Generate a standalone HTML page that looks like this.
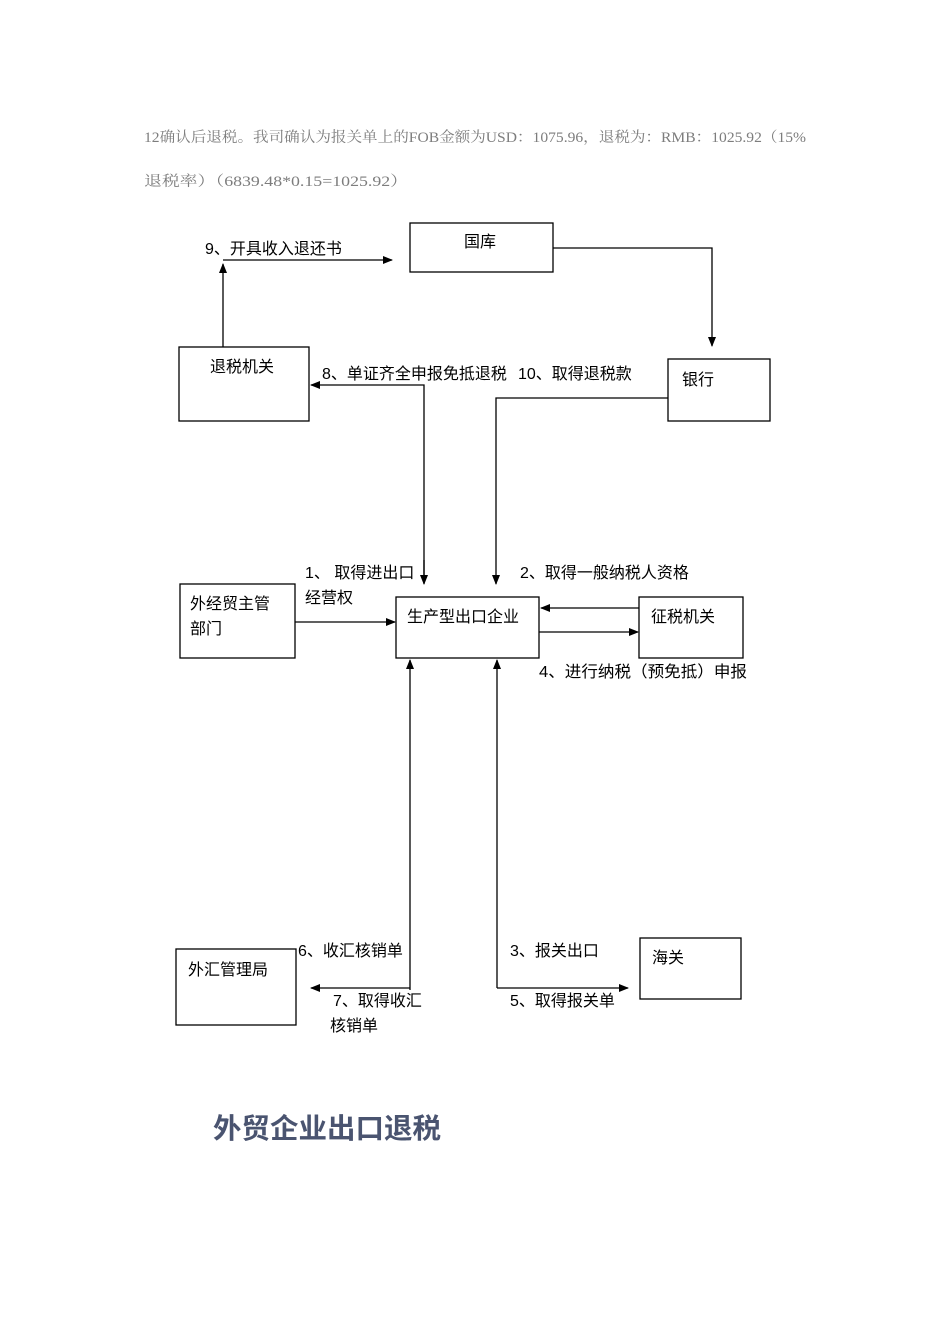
<!DOCTYPE html>
<html><head><meta charset="utf-8"><style>
body{margin:0;background:#fff;}
svg{display:block}
</style></head><body>
<svg width="950" height="1344" viewBox="0 0 950 1344" xmlns="http://www.w3.org/2000/svg">
<defs><marker id="a" markerWidth="10" markerHeight="10" refX="9" refY="5" orient="auto" markerUnits="userSpaceOnUse"><path d="M0,1 L10,5 L0,9 z" fill="#000"/></marker></defs>
<g font-family="Liberation Serif, Noto Serif CJK SC, serif" font-size="14.5" fill="#7d7d7d">
<text x="144" y="142" textLength="662" lengthAdjust="spacingAndGlyphs">12确认后退税。我司确认为报关单上的FOB金额为USD：1075.96，退税为：RMB：1025.92（15%</text>
<text x="144" y="186" textLength="264" lengthAdjust="spacingAndGlyphs">退税率）（6839.48*0.15=1025.92）</text>
</g>
<g fill="none" stroke="#000" stroke-width="1.3">
<rect x="410" y="223" width="143" height="49"/>
<rect x="179" y="347" width="130" height="74"/>
<rect x="668" y="359" width="102" height="62"/>
<rect x="180" y="584" width="115" height="74"/>
<rect x="396" y="597" width="143" height="61"/>
<rect x="639" y="597" width="104" height="61"/>
<rect x="176" y="949" width="120" height="76"/>
<rect x="640" y="938" width="101" height="61"/>
<polyline points="223,347 223,264" marker-end="url(#a)"/>
<polyline points="223,260 392,260" marker-end="url(#a)"/>
<polyline points="553,248 712,248 712,346" marker-end="url(#a)"/>
<polyline points="424,583 424,385 311,385" marker-end="url(#a)"/>
<line x1="424" y1="560" x2="424" y2="584" marker-end="url(#a)"/>
<polyline points="668,398 496,398 496,584" marker-end="url(#a)"/>
<polyline points="295,622 395,622" marker-end="url(#a)"/>
<polyline points="639,608 541,608" marker-end="url(#a)"/>
<polyline points="539,632 638,632" marker-end="url(#a)"/>
<polyline points="410,990 410,660" marker-end="url(#a)"/>
<polyline points="410,988 311,988" marker-end="url(#a)"/>
<polyline points="497,988 497,660" marker-end="url(#a)"/>
<polyline points="497,988 628,988" marker-end="url(#a)"/>
</g>
<g font-family="Liberation Sans, Noto Sans CJK SC, sans-serif" font-size="16" fill="#000">
<text x="464" y="247">国库</text>
<text x="210" y="372">退税机关</text>
<text x="682" y="385">银行</text>
<text x="190" y="609">外经贸主管</text>
<text x="190" y="634">部门</text>
<text x="407" y="622">生产型出口企业</text>
<text x="651" y="622">征税机关</text>
<text x="188" y="975">外汇管理局</text>
<text x="652" y="963">海关</text>
<text x="205" y="254">9、开具收入退还书</text>
<text x="322" y="379">8、单证齐全申报免抵退税</text>
<text x="518" y="379">10、取得退税款</text>
<text x="305" y="578">1、 取得进出口</text>
<text x="305" y="603">经营权</text>
<text x="520" y="578">2、取得一般纳税人资格</text>
<text x="539" y="677" textLength="208" lengthAdjust="spacingAndGlyphs">4、进行纳税（预免抵）申报</text>
<text x="298" y="956">6、收汇核销单</text>
<text x="333" y="1006">7、取得收汇</text>
<text x="330" y="1031">核销单</text>
<text x="510" y="956">3、报关出口</text>
<text x="510" y="1006">5、取得报关单</text>
</g>
<text x="213" y="1138" font-family="Liberation Sans, Noto Sans CJK SC, sans-serif" font-size="28" font-weight="bold" fill="#4a5470" textLength="228" lengthAdjust="spacingAndGlyphs">外贸企业出口退税</text>
</svg>
</body></html>
